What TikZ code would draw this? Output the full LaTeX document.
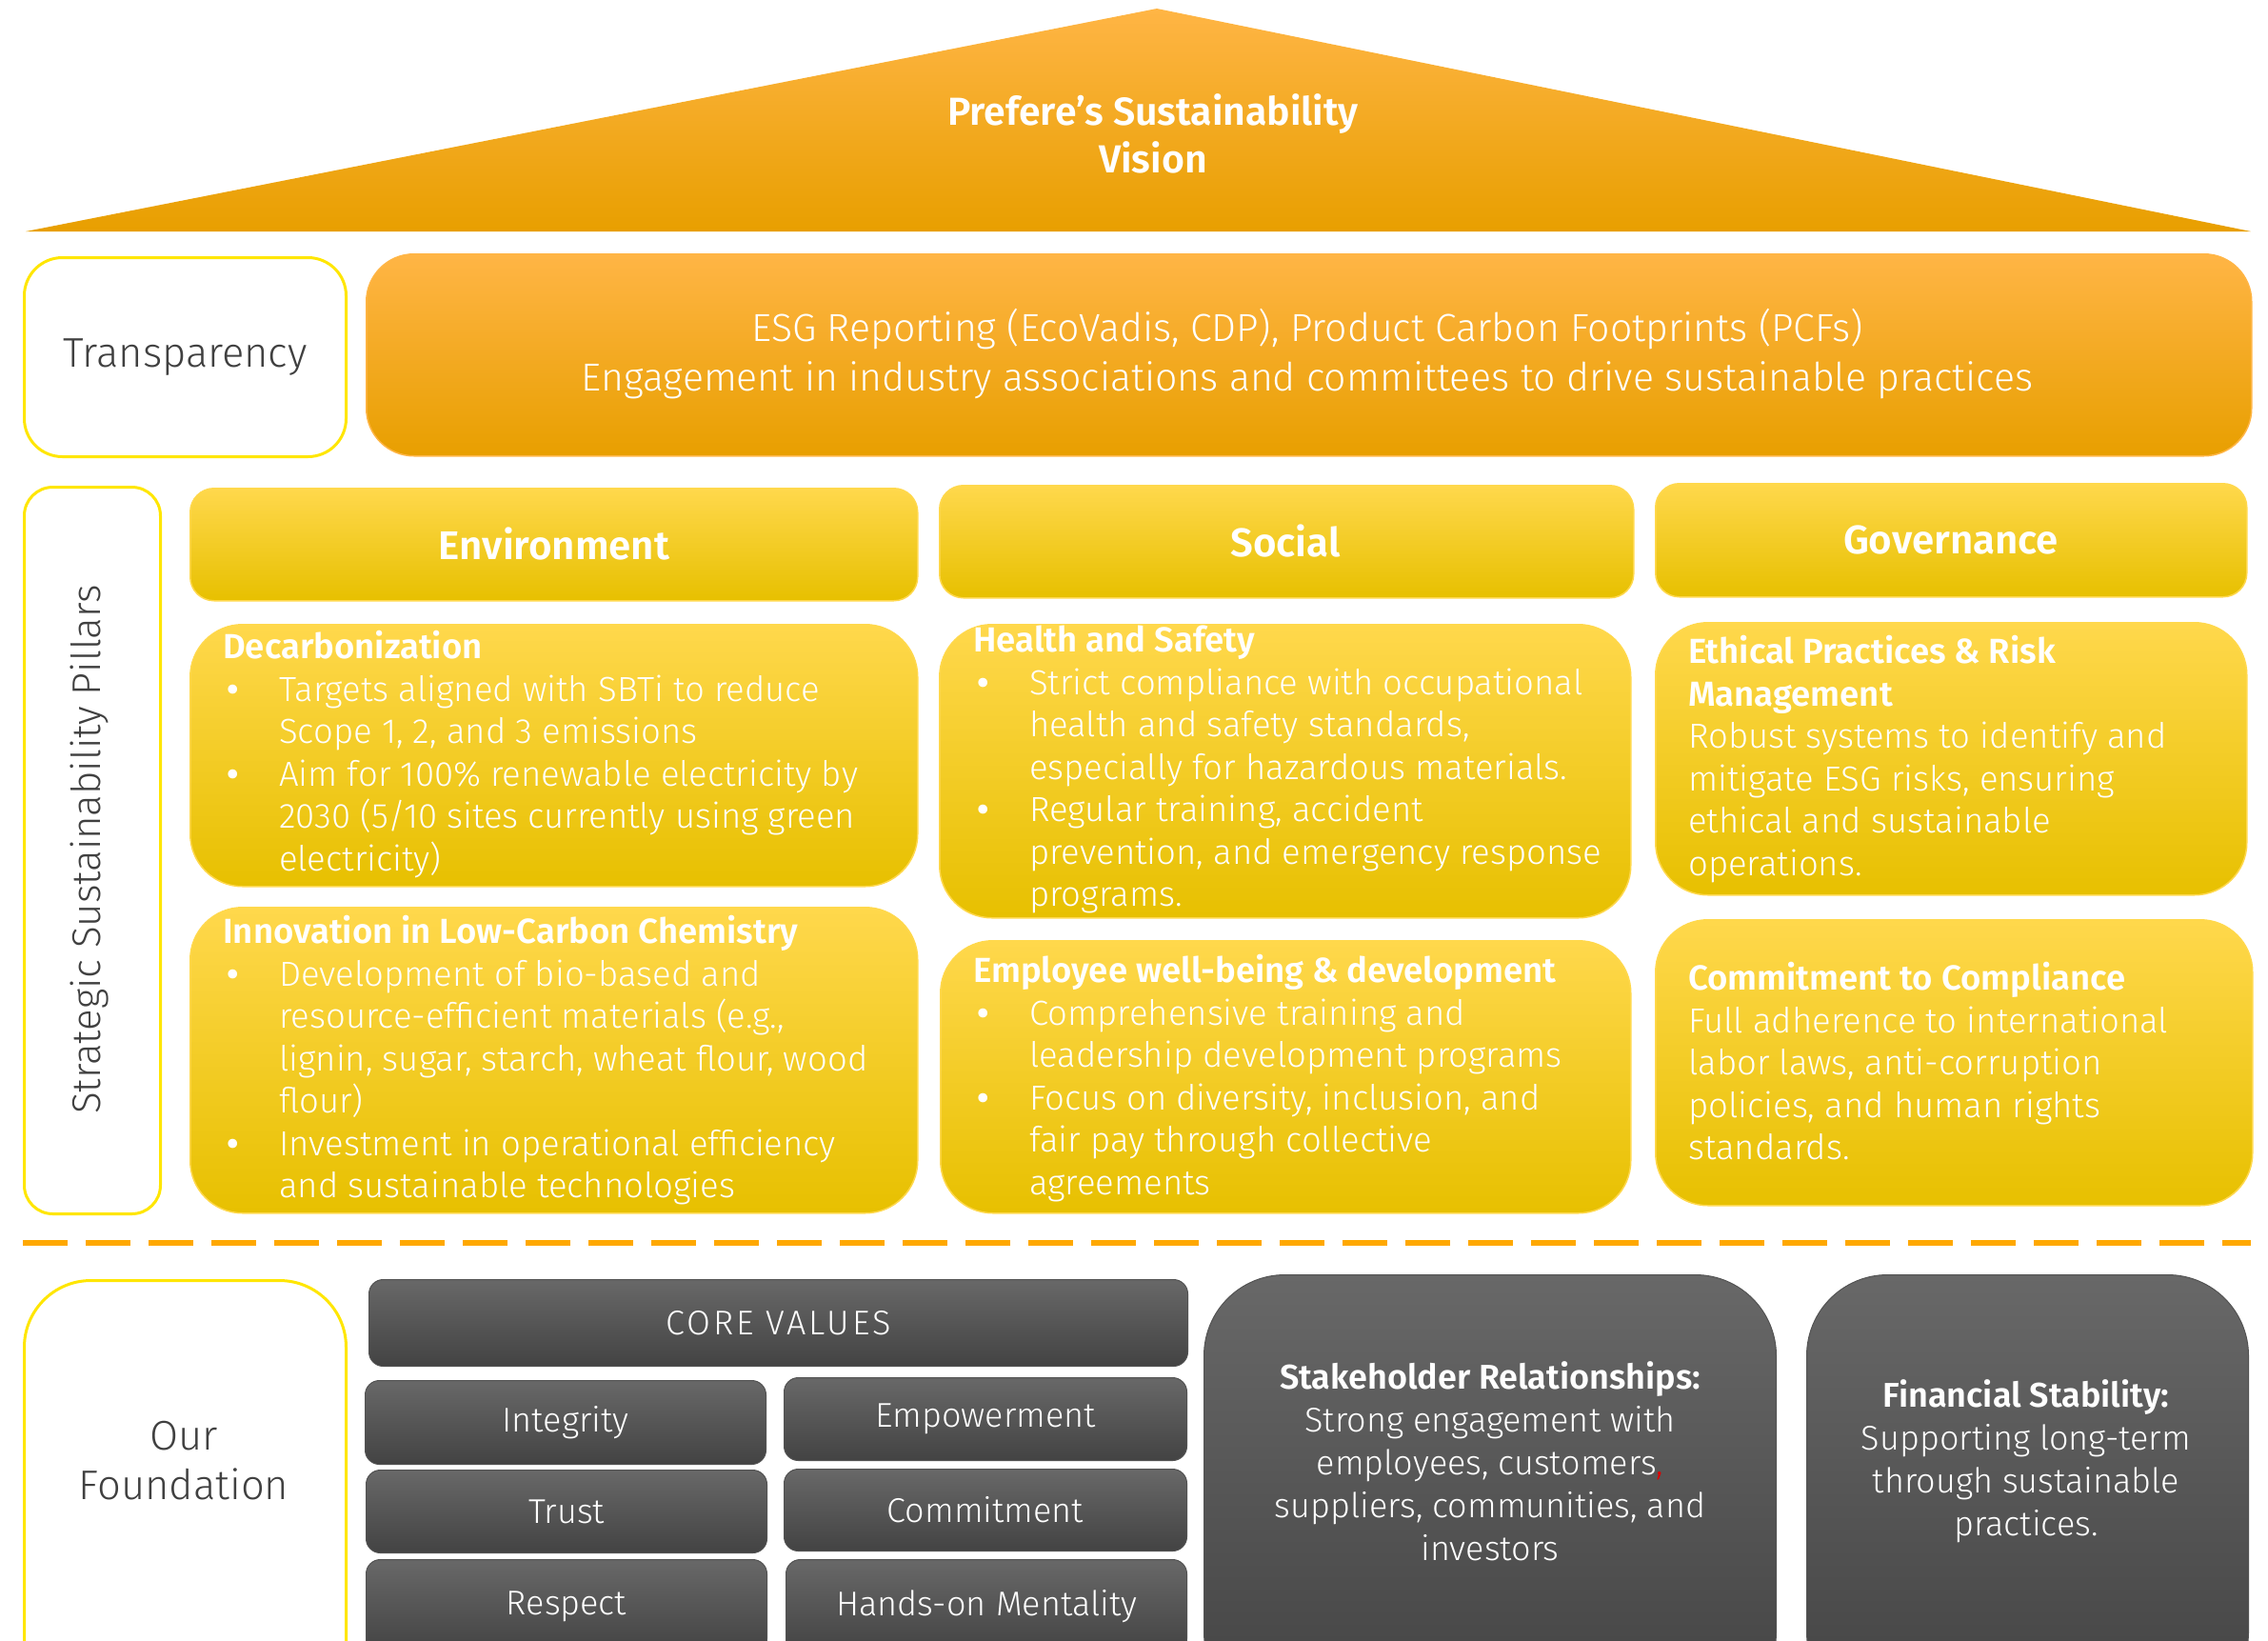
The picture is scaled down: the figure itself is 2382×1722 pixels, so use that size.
\documentclass[tikz,border=0pt]{standalone}
\usepackage{fontspec}
\setmainfont{Fira Sans}[UprightFont=* Light, BoldFont=* SemiBold]
\definecolor{orT}{HTML}{FFB545}
\definecolor{orM}{HTML}{FFAD00}
\definecolor{orB}{HTML}{E89F00}
\definecolor{yeT}{HTML}{FFD84C}
\definecolor{yeM}{HTML}{FFD000}
\definecolor{yeB}{HTML}{E7C000}
\definecolor{grT}{HTML}{686868}
\definecolor{grB}{HTML}{434343}
\definecolor{txtgray}{HTML}{404040}
\definecolor{frame}{HTML}{FFE600}
\definecolor{dashor}{HTML}{FFA800}
\definecolor{redc}{HTML}{E00000}
\newcommand\bodyfs{\fontsize{36.5}{44.5}\selectfont}
\newcommand\bul{\makebox[59pt][l]{\hspace{4pt}\textbf{•}}}
\newcommand\ind{\hspace*{59pt}}
\tikzset{
  orbox/.style={rectangle, rounded corners=50pt, top color=orT, middle color=orM, bottom color=orB, draw=orT, line width=1.5pt, inner sep=0pt, anchor=north west},
  yebox/.style={rectangle, top color=yeT, middle color=yeM, bottom color=yeB, draw=yeT, line width=1.5pt, inner sep=0pt, anchor=north west},
  hdr/.style={yebox, rounded corners=25pt},
  hdrtext/.style={text=white, inner sep=0pt, font=\fontsize{42}{50}\selectfont\bfseries},
  cbox/.style={yebox, rounded corners=55pt},
  wbox/.style={rectangle, rounded corners=40pt, fill=white, draw=frame, line width=3pt, inner sep=0pt, anchor=north west},
  gbox/.style={rectangle, top color=grT, bottom color=grB, draw=grT!80!black, line width=1pt, inner sep=0pt, anchor=north west, text=white},
  val/.style={gbox, rounded corners=15pt, font=\fontsize{36}{44}\selectfont},
  bigg/.style={gbox, rounded corners=85pt},
  body/.style={text=white, align=left, anchor=north west, inner sep=0pt, font=\bodyfs},
  ctext/.style={text=white, align=center, inner sep=0pt, font=\fontsize{36}{45}\selectfont},
  graytext/.style={text=txtgray, align=center, inner sep=0pt, font=\fontsize{43.5}{52}\selectfont},
  dashline/.style={draw=dashor, line width=6pt, dash pattern=on 47pt off 19pt}
}
\begin{document}
\begin{tikzpicture}[x=1pt,y=-1pt]
\useasboundingbox (0,0) rectangle (2382,1722);
\clip (0,0) rectangle (2382,1722);
% roof
\coordinate (rl) at (27,243);
\coordinate (rt) at (1215,9);
\coordinate (rr) at (2364,243);
\shade[top color=orT, middle color=orM, bottom color=orB] (rl) -- (rt) -- (rr) -- cycle;
\node[text=white, align=center, inner sep=0pt, font=\fontsize{41}{50}\selectfont\bfseries] (vision) at (1211,140) {Prefere’s Sustainability\\Vision};
% transparency row
\node[wbox, minimum width=338pt, minimum height=209pt] (transp) at (24,269) {};
\node[graytext] (transpT) at (transp.center) {Transparency};
\node[orbox, minimum width=1980pt, minimum height=212pt] (esg) at (384,266) {};
\node[ctext, font=\fontsize{41}{52}\selectfont] (esgT) at (1373,372) {ESG Reporting (EcoVadis, CDP), Product Carbon Footprints (PCFs)\\Engagement in industry associations and committees to drive sustainable practices};
% pillars
\node[wbox, minimum width=143pt, minimum height=763pt, rounded corners=30pt] (pill) at (24,510) {};
\node[text=txtgray, rotate=90, inner sep=0pt, font=\fontsize{42}{48}\selectfont] (pillT) at (94,892) {Strategic Sustainability Pillars};
\node[hdr, minimum width=764pt, minimum height=118pt] (env) at (199,512) {};
\node[hdrtext] (envT) at (582,571) {Environment};
\node[hdr, minimum width=729pt, minimum height=118pt] (soc) at (986,509) {};
\node[hdrtext] (socT) at (1350,568) {Social};
\node[hdr, minimum width=621pt, minimum height=119pt] (gov) at (1738,507) {};
\node[hdrtext] (govT) at (2049,567) {Governance};
% environment boxes
\node[cbox, minimum width=764pt, minimum height=275pt] (decb) at (199,655) {};
\node[body] (decT) at (234,662) {\textbf{Decarbonization}\\
\bul Targets aligned with SBTi to reduce\\
\ind Scope 1, 2, and 3 emissions\\
\bul Aim for 100\% renewable electricity by\\
\ind 2030 (5/10 sites currently using green\\
\ind electricity)};
\node[cbox, minimum width=764pt, minimum height=321pt] (innb) at (199,952) {};
\node[body] (innT) at (234,961) {\textbf{Innovation in Low-Carbon Chemistry}\\
\bul Development of bio-based and\\
\ind resource-efficient materials (e.g.,\\
\ind lignin, sugar, starch, wheat flour, wood\\
\ind flour)\\
\bul Investment in operational efficiency\\
\ind and sustainable technologies};
% social boxes
\node[cbox, minimum width=726pt, minimum height=308pt] (hsb) at (986,655) {};
\node[body] (hsT) at (1022,657) {\textbf{Health and Safety}\\
\bul Strict compliance with occupational\\
\ind health and safety standards,\\
\ind especially for hazardous materials.\\
\bul Regular training, accident\\
\ind prevention, and emergency response\\
\ind programs.};
\node[cbox, minimum width=725pt, minimum height=286pt] (empb) at (987,987) {};
\node[body] (empT) at (1022,1002) {\textbf{Employee well-being \& development}\\
\bul Comprehensive training and\\
\ind leadership development programs\\
\bul Focus on diversity, inclusion, and\\
\ind fair pay through collective\\
\ind agreements};
% governance boxes
\node[cbox, minimum width=621pt, minimum height=286pt] (ethb) at (1738,653) {};
\node[body] (ethT) at (1773,667) {\textbf{Ethical Practices \& Risk}\\
\textbf{Management}\\
Robust systems to identify and\\
mitigate ESG risks, ensuring\\
ethical and sustainable\\
operations.};
\node[cbox, minimum width=627pt, minimum height=300pt] (comb) at (1738,965) {};
\node[body] (comT) at (1773,1010) {\textbf{Commitment to Compliance}\\
Full adherence to international\\
labor laws, anti-corruption\\
policies, and human rights\\
standards.};
% dashed separator
\coordinate (dl) at (24,1305);
\coordinate (dr) at (2364,1305);
\draw[dashline] (dl) -- (dr);
% foundation
\node[wbox, minimum width=338pt, minimum height=450pt, rounded corners=70pt] (found) at (24,1343) {};
\node[graytext] (foundT) at (193,1534) {Our\\Foundation};
\node[val, minimum width=860pt, minimum height=91pt, font=\fontsize{36}{44}\selectfont\addfontfeature{LetterSpace=8}] (core) at (387,1343) {CORE VALUES};
\node[val, minimum width=421pt, minimum height=88pt] (integ) at (383,1449) {Integrity};
\node[val, minimum width=423pt, minimum height=87pt] (empow) at (823,1446) {Empowerment};
\node[val, minimum width=421pt, minimum height=87pt] (trust) at (384,1543) {Trust};
\node[val, minimum width=423pt, minimum height=86pt] (commit) at (823,1542) {Commitment};
\node[val, minimum width=421pt, minimum height=98pt] (resp) at (384,1637) {Respect};
\node[val, minimum width=421pt, minimum height=98pt] (hands) at (825,1637) {Hands-on Mentality};
\node[bigg, minimum width=601pt, minimum height=460pt] (stake) at (1264,1338) {};
\node[ctext] (stakeT) at (1565,1534) {\textbf{Stakeholder Relationships:}\\
Strong engagement with\\
employees, customers\textcolor{redc}{,}\\
suppliers, communities, and\\
investors};
\node[bigg, minimum width=464pt, minimum height=460pt] (fin) at (1897,1338) {};
\node[ctext] (finT) at (2128,1534) {\textbf{Financial Stability:}\\
Supporting long-term\\
through sustainable\\
practices.};
\end{tikzpicture}
\end{document}
